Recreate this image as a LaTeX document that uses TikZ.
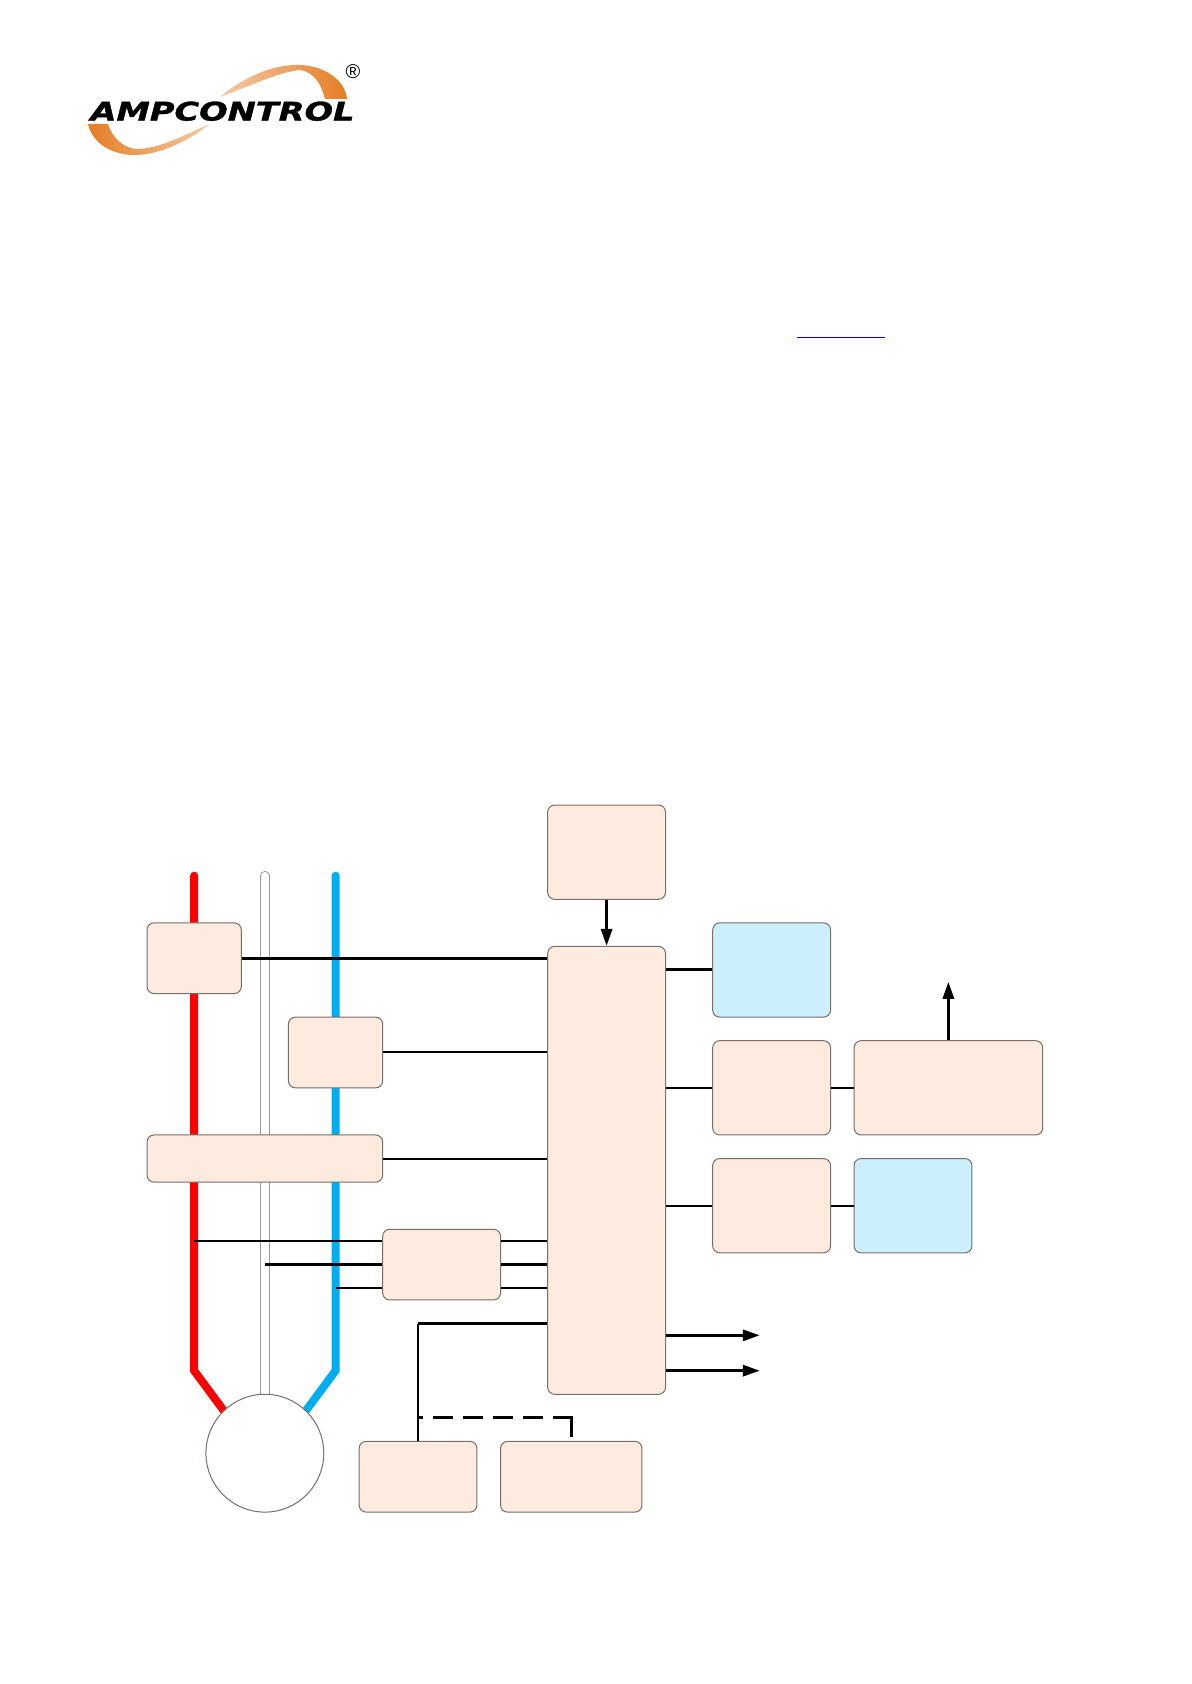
\documentclass[tikz,border=0pt]{standalone}
\usepackage{fontspec}
\setmainfont{Liberation Sans}
\newfontfamily\brandfont[BoldItalicFeatures={FakeBold=1.2}]{DejaVu Sans}
\usetikzlibrary{arrows.meta,positioning,calc}
\definecolor{amporange}{RGB}{229,125,35}
\definecolor{ampedge}{RGB}{120,110,105}
\definecolor{ampfill}{RGB}{252,235,222}
\definecolor{ampblue}{RGB}{204,239,254}
\definecolor{busred}{RGB}{255,0,0}
\definecolor{busblue}{RGB}{0,174,239}
\definecolor{linkblue}{RGB}{0,0,200}
\tikzset{
  blk/.style n args={2}{draw=ampedge, fill=ampfill, line width=0.5pt, rounded corners=3.5pt,
              inner sep=0pt, minimum width=#1*11.785pt, minimum height=#2*11.785pt},
  cool/.style={fill=ampblue},
  motorbk/.style={circle, inner sep=0pt, minimum size=58.92pt},
  bus/.style={line width=4pt},
  earthbus/.style={draw=gray!80, double=white, line width=0.5pt, double distance=3.8pt, line cap=round},
  wire/.style={black, line width=1pt},
  wirethk/.style={black, line width=1.5pt},
  flowarr/.style={-{Triangle[length=8.5pt,width=5.5pt]}, black, line width=1.5pt},
  linkdash/.style={wirethk, dash pattern=on 10pt off 5pt, dash phase=7.5pt},
}

\begin{document}
\begin{tikzpicture}[x=11.785pt, y=-11.785pt]
  \useasboundingbox (-6.237,-34.154) rectangle (44.294,37.293);
  \fill[white] (-6.237,-34.154) rectangle (44.294,37.293);

  \begin{scope}[shift={(-6.237,-34.154)}, x=0.5pt, y=-0.5pt]
    \shade[left color=amporange!40, middle color=amporange, right color=amporange]
      (220,97) .. controls (240,80) and (270,64) .. (300,65)
      .. controls (325,66) and (345,80) .. (347,99) -- (325,99)
      .. controls (321,84) and (314,72) .. (300,70)
      .. controls (278,72) and (248,87) .. (220,97) -- cycle;
    \shade[left color=amporange, middle color=amporange, right color=amporange!40]
      (88,124) -- (108,124) .. controls (112,138) and (125,150) .. (140,149)
      .. controls (165,147) and (190,132) .. (210,124)
      .. controls (190,140) and (160,155) .. (135,155)
      .. controls (110,155) and (92,142) .. (88,124) -- cycle;
    \node[inner sep=0pt] (brand) at (222.5,111.2)
      {\resizebox{132pt}{9.5pt}{\brandfont\bfseries\itshape AMPCONTROL}};
    \node[inner sep=0pt, font=\fontsize{10}{10}\selectfont] (regmark) at (353,72) {®};
    \draw[linkblue, line width=0.6pt] (797,337.3) -- (884.7,337.3);
  \end{scope}

  \coordinate (motorpos) at (5,27.5);
  \node[motorbk] (motor) at (motorpos) {};
  \draw[bus, busred, line cap=round] (2,3) -- (2,24) -- (motor.134);
  \draw[bus, busblue, line cap=round] (8,3) -- (8,24) -- (motor.46);
  \draw[earthbus] (5,3) -- (motor.north);
  \node[motorbk, draw=ampedge, fill=white, line width=0.5pt] (motorface) at (motorpos) {};

  \node[blk={4}{3}] (ctred) at (2,6.5) {};
  \node[blk={4}{3}] (ctblue) at (8,10.5) {};
  \node[blk={10}{2}] (cbct) at (5,15) {};
  \node[blk={5}{3}] (vmeas) at (12.5,19.5) {};
  \node[blk={5}{19}] (relay) at (19.5,15.5) {};
  \node[blk={5}{4}] (supply) at (19.5,2) {};
  \node[blk={5}{4}, cool] (display) at (26.5,7) {};
  \node[blk={5}{4}] (commsa) at (26.5,12) {};
  \node[blk={8}{4}] (gateway) at (34,12) {};
  \node[blk={5}{4}] (commsb) at (26.5,17) {};
  \node[blk={5}{4}, cool] (remote) at (32.5,17) {};
  \node[blk={5}{3}] (rtd) at (11.5,28.5) {};
  \node[blk={6}{3}] (probe) at (18,28.5) {};

  \coordinate (tapred) at (2,18.5);
  \coordinate (tapearth) at (5,19.5);
  \coordinate (tapblue) at (8,20.5);
  \coordinate (rtdbus) at (11.5,22);
  \coordinate (linkstart) at (11.5,26);
  \coordinate (linkcorner) at (18,26);
  \coordinate (linkend) at (18,26.75);
  \coordinate (gwout) at (34,7.5);
  \coordinate (outa) at (26,22.5);
  \coordinate (outb) at (26,24);

  \draw[wirethk] (ctred.east) -- (ctred.east -| relay.west);
  \draw[wire] (ctblue.east) -- (ctblue.east -| relay.west);
  \draw[wire] (cbct.east) -- (cbct.east -| relay.west);
  \draw[wire] (tapred) -- (tapred -| vmeas.west);
  \draw[wirethk] (tapearth) -- (tapearth -| vmeas.west);
  \draw[wire] (tapblue) -- (tapblue -| vmeas.west);
  \draw[wire] (tapred -| vmeas.east) -- (tapred -| relay.west);
  \draw[wirethk] (vmeas.east) -- (vmeas.east -| relay.west);
  \draw[wire] (tapblue -| vmeas.east) -- (tapblue -| relay.west);
  \draw[wirethk] (relay.west |- rtdbus) -- (rtdbus);
  \draw[wire] (rtdbus) -- (rtd.north);
  \draw[linkdash] (linkstart) -- (linkcorner);
  \draw[wirethk, line cap=rect] (linkcorner) -- (linkend);

  \draw[flowarr] (supply.south) -- (relay.north);
  \draw[wirethk] (relay.east |- display.west) -- (display.west);
  \draw[wire] (relay.east |- commsa.west) -- (commsa.west);
  \draw[wire] (relay.east |- commsb.west) -- (commsb.west);
  \draw[wire] (commsa.east) -- (gateway.west);
  \draw[wire] (commsb.east) -- (remote.west);
  \draw[flowarr] (gateway.north) -- (gwout);
  \draw[flowarr] (relay.east |- outa) -- (outa);
  \draw[flowarr] (relay.east |- outb) -- (outb);
\end{tikzpicture}
\end{document}
